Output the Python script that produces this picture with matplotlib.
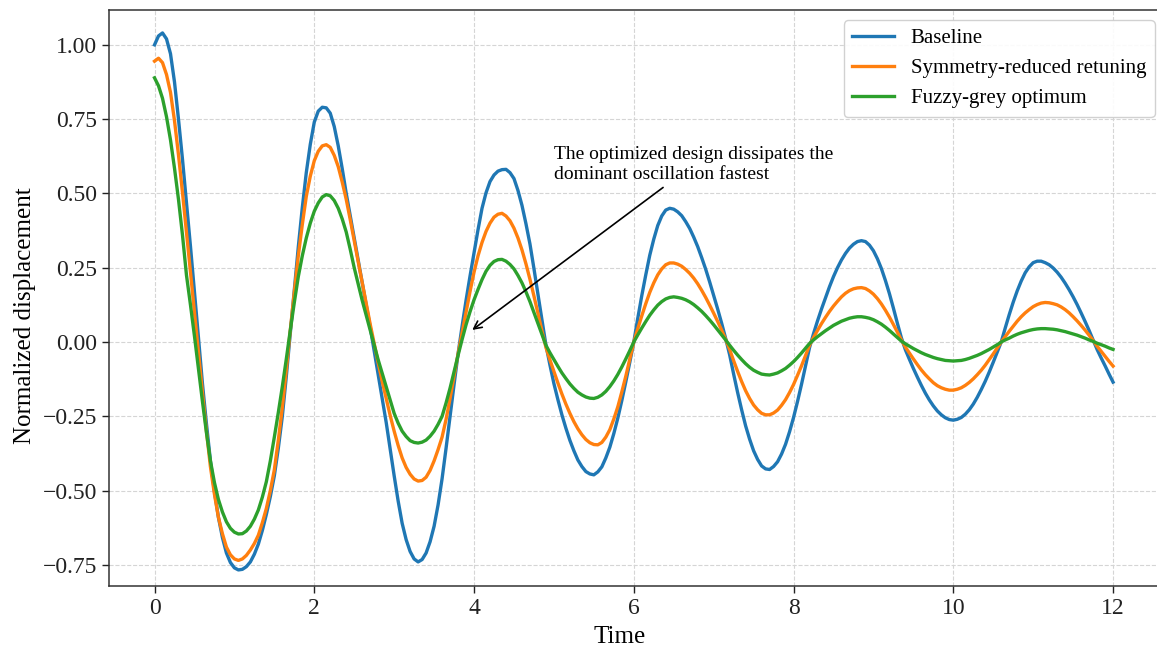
import numpy as np
import matplotlib
matplotlib.use("Agg")
import matplotlib.pyplot as plt

# Each row below covers half a time unit (10 samples).
time = np.linspace(0.0, 12.0, 241)

baseline = [
    1.000, 1.030, 1.040, 1.020, 0.970, 0.875, 0.750, 0.615, 0.470, 0.322,
    0.170, 0.015, -0.140, -0.275, -0.400, -0.503, -0.590, -0.658, -0.710, -0.742,
    -0.760, -0.767, -0.765, -0.756, -0.740, -0.714, -0.680, -0.634, -0.580, -0.520,
    -0.450, -0.357, -0.250, -0.115, 0.030, 0.178, 0.320, 0.452, 0.570, 0.665,
    0.740, 0.777, 0.790, 0.788, 0.770, 0.725, 0.660, 0.583, 0.500, 0.425,
    0.350, 0.275, 0.200, 0.125, 0.050, -0.030, -0.110, -0.190, -0.270, -0.360,
    -0.450, -0.535, -0.610, -0.665, -0.705, -0.730, -0.740, -0.732, -0.710, -0.672,
    -0.620, -0.548, -0.460, -0.357, -0.250, -0.143, -0.040, 0.052, 0.140, 0.222,
    0.300, 0.378, 0.450, 0.502, 0.540, 0.562, 0.575, 0.580, 0.581, 0.570,
    0.550, 0.510, 0.460, 0.398, 0.330, 0.247, 0.160, 0.075, -0.010, -0.077,
    -0.140, -0.194, -0.245, -0.290, -0.331, -0.366, -0.397, -0.419, -0.436, -0.444,
    -0.447, -0.437, -0.420, -0.390, -0.354, -0.308, -0.256, -0.197, -0.134, -0.068,
    0.000, 0.080, 0.156, 0.226, 0.292, 0.346, 0.392, 0.424, 0.444, 0.450,
    0.447, 0.438, 0.425, 0.405, 0.382, 0.353, 0.321, 0.284, 0.245, 0.202,
    0.157, 0.111, 0.063, 0.012, -0.043, -0.108, -0.170, -0.228, -0.282, -0.327,
    -0.366, -0.395, -0.417, -0.427, -0.429, -0.419, -0.403, -0.377, -0.344, -0.302,
    -0.254, -0.200, -0.142, -0.080, -0.019, 0.028, 0.071, 0.111, 0.149, 0.186,
    0.220, 0.250, 0.276, 0.298, 0.316, 0.329, 0.338, 0.341, 0.338, 0.326,
    0.307, 0.280, 0.247, 0.207, 0.163, 0.114, 0.063, 0.014, -0.026, -0.058,
    -0.089, -0.118, -0.146, -0.172, -0.195, -0.215, -0.232, -0.245, -0.255, -0.261,
    -0.263, -0.260, -0.254, -0.243, -0.228, -0.209, -0.186, -0.160, -0.132, -0.101,
    -0.068, -0.034, 0.000, 0.047, 0.092, 0.134, 0.172, 0.205, 0.233, 0.253,
    0.267, 0.272, 0.272, 0.267, 0.260, 0.249, 0.235, 0.218, 0.198, 0.176,
    0.152, 0.126, 0.098, 0.069, 0.039, 0.007, -0.025, -0.053, -0.080, -0.108,
    -0.135,
]

symmetry_reduced = [
    0.945, 0.955, 0.940, 0.900, 0.840, 0.745, 0.630, 0.503, 0.370, 0.235,
    0.100, -0.035, -0.170, -0.300, -0.420, -0.512, -0.590, -0.645, -0.690, -0.716,
    -0.730, -0.735, -0.730, -0.718, -0.700, -0.678, -0.650, -0.608, -0.560, -0.500,
    -0.430, -0.330, -0.220, -0.093, 0.040, 0.168, 0.290, 0.395, 0.490, 0.558,
    0.610, 0.642, 0.660, 0.664, 0.655, 0.628, 0.590, 0.538, 0.480, 0.412,
    0.340, 0.270, 0.200, 0.130, 0.060, -0.005, -0.070, -0.132, -0.190, -0.247,
    -0.300, -0.348, -0.390, -0.422, -0.445, -0.461, -0.468, -0.466, -0.455, -0.432,
    -0.400, -0.362, -0.320, -0.260, -0.190, -0.115, -0.040, 0.031, 0.100, 0.170,
    0.235, 0.290, 0.335, 0.372, 0.400, 0.420, 0.430, 0.433, 0.424, 0.408,
    0.383, 0.350, 0.310, 0.263, 0.211, 0.155, 0.096, 0.038, -0.018, -0.060,
    -0.099, -0.138, -0.175, -0.209, -0.240, -0.268, -0.292, -0.312, -0.328, -0.339,
    -0.345, -0.346, -0.338, -0.320, -0.295, -0.259, -0.218, -0.168, -0.115, -0.058,
    0.000, 0.045, 0.088, 0.129, 0.167, 0.199, 0.226, 0.246, 0.260, 0.266,
    0.266, 0.262, 0.255, 0.244, 0.231, 0.215, 0.196, 0.174, 0.150, 0.124,
    0.097, 0.069, 0.040, 0.009, -0.025, -0.063, -0.099, -0.133, -0.164, -0.190,
    -0.212, -0.228, -0.240, -0.245, -0.245, -0.239, -0.229, -0.213, -0.194, -0.170,
    -0.143, -0.112, -0.080, -0.046, -0.011, 0.015, 0.039, 0.062, 0.083, 0.103,
    0.121, 0.137, 0.152, 0.164, 0.173, 0.179, 0.182, 0.183, 0.180, 0.172,
    0.161, 0.146, 0.128, 0.107, 0.084, 0.059, 0.033, 0.007, -0.017, -0.037,
    -0.057, -0.076, -0.094, -0.110, -0.124, -0.137, -0.147, -0.154, -0.159, -0.162,
    -0.162, -0.159, -0.154, -0.146, -0.136, -0.124, -0.110, -0.095, -0.078, -0.059,
    -0.040, -0.020, 0.000, 0.018, 0.036, 0.053, 0.070, 0.085, 0.098, 0.109,
    0.119, 0.126, 0.131, 0.133, 0.132, 0.129, 0.125, 0.118, 0.109, 0.098,
    0.085, 0.071, 0.056, 0.040, 0.023, 0.005, -0.014, -0.031, -0.048, -0.065,
    -0.081,
]

fuzzy_grey = [
    0.889, 0.862, 0.820, 0.758, 0.680, 0.585, 0.480, 0.360, 0.225, 0.125,
    0.020, -0.090, -0.200, -0.305, -0.400, -0.473, -0.530, -0.572, -0.605, -0.627,
    -0.640, -0.646, -0.645, -0.636, -0.620, -0.596, -0.565, -0.522, -0.470, -0.400,
    -0.320, -0.237, -0.150, -0.057, 0.040, 0.133, 0.220, 0.290, 0.350, 0.400,
    0.440, 0.468, 0.488, 0.496, 0.492, 0.476, 0.450, 0.414, 0.370, 0.312,
    0.250, 0.195, 0.140, 0.090, 0.040, -0.010, -0.060, -0.105, -0.150, -0.195,
    -0.240, -0.273, -0.300, -0.318, -0.332, -0.338, -0.340, -0.337, -0.330, -0.317,
    -0.300, -0.277, -0.250, -0.205, -0.155, -0.100, -0.045, 0.008, 0.058, 0.102,
    0.142, 0.177, 0.210, 0.238, 0.258, 0.271, 0.277, 0.278, 0.272, 0.261,
    0.246, 0.224, 0.199, 0.169, 0.136, 0.099, 0.061, 0.024, -0.011, -0.036,
    -0.059, -0.082, -0.104, -0.123, -0.141, -0.156, -0.169, -0.178, -0.185, -0.189,
    -0.190, -0.186, -0.178, -0.166, -0.150, -0.131, -0.109, -0.084, -0.057, -0.029,
    0.000, 0.024, 0.047, 0.069, 0.090, 0.108, 0.124, 0.136, 0.145, 0.150,
    0.152, 0.150, 0.147, 0.142, 0.135, 0.126, 0.115, 0.103, 0.089, 0.074,
    0.058, 0.041, 0.024, 0.007, -0.011, -0.028, -0.044, -0.059, -0.073, -0.085,
    -0.095, -0.102, -0.108, -0.110, -0.111, -0.108, -0.104, -0.097, -0.089, -0.078,
    -0.066, -0.052, -0.037, -0.021, -0.005, 0.007, 0.018, 0.028, 0.038, 0.047,
    0.056, 0.063, 0.070, 0.075, 0.080, 0.083, 0.085, 0.085, 0.083, 0.080,
    0.075, 0.068, 0.060, 0.050, 0.039, 0.027, 0.015, 0.003, -0.006, -0.014,
    -0.022, -0.029, -0.036, -0.042, -0.047, -0.052, -0.056, -0.059, -0.062, -0.063,
    -0.064, -0.063, -0.062, -0.059, -0.055, -0.050, -0.045, -0.039, -0.032, -0.025,
    -0.017, -0.009, 0.000, 0.007, 0.013, 0.020, 0.026, 0.031, 0.035, 0.039,
    0.042, 0.044, 0.045, 0.045, 0.044, 0.043, 0.041, 0.038, 0.035, 0.031,
    0.027, 0.023, 0.018, 0.013, 0.007, 0.002, -0.004, -0.009, -0.014, -0.020,
    -0.025,
]

series_names = ["Baseline", "Symmetry-reduced retuning", "Fuzzy-grey optimum"]
series_colors = ["#1f77b4", "#ff7f0e", "#2ca02c"]
x_ticks = [0, 2, 4, 6, 8, 10, 12]
y_ticks = [-0.75, -0.50, -0.25, 0.00, 0.25, 0.50, 0.75, 1.00]
note_text = "The optimized design dissipates the\ndominant oscillation fastest"

plt.rcParams['font.family'] = ['Liberation Serif', 'DejaVu Serif']

fig = plt.figure(figsize=(11.57, 6.5), dpi=100)
# axes run slightly past the right edge, like the cropped reference
ax = fig.add_axes([0.0942, 0.0985, 0.9127, 0.886])

for values, name, color in zip([baseline, symmetry_reduced, fuzzy_grey], series_names, series_colors):
    ax.plot(time, values, color=color, lw=2.4, label=name, solid_joinstyle="round")

ax.set_xlim(-0.57, 12.65)
ax.set_ylim(-0.821, 1.117)
ax.set_xticks(x_ticks)
ax.set_yticks(y_ticks)
ax.set_yticklabels(["{:.2f}".format(v).replace("-", "\u2212") for v in y_ticks])
ax.tick_params(labelsize=17, colors="#222222", length=5, width=1.0)

ax.grid(True, linestyle="--", linewidth=0.8, color="#d5d5d5")
ax.set_axisbelow(True)
for side in ax.spines.values():
    side.set_color("#333333")
    side.set_linewidth(1.1)

ax.set_xlabel("Time", fontsize=18)
ax.xaxis.set_label_coords(0.484, -0.089)
ax.xaxis.label.set_va("center")
ax.set_ylabel("Normalized displacement", fontsize=18)
ax.yaxis.set_label_coords(-0.08, 0.47)
ax.yaxis.label.set_va("center")

ax.annotate(note_text, xy=(3.95, 0.035), xytext=(5.0, 0.535),
            textcoords="data", fontsize=14, ha="left", va="bottom",
            arrowprops=dict(arrowstyle="->", color="black", lw=1.2))

ax.legend(loc="upper right", fontsize=15, frameon=True, fancybox=True,
          framealpha=0.9, edgecolor="#cccccc")

fig.savefig("out.png", dpi=100)
